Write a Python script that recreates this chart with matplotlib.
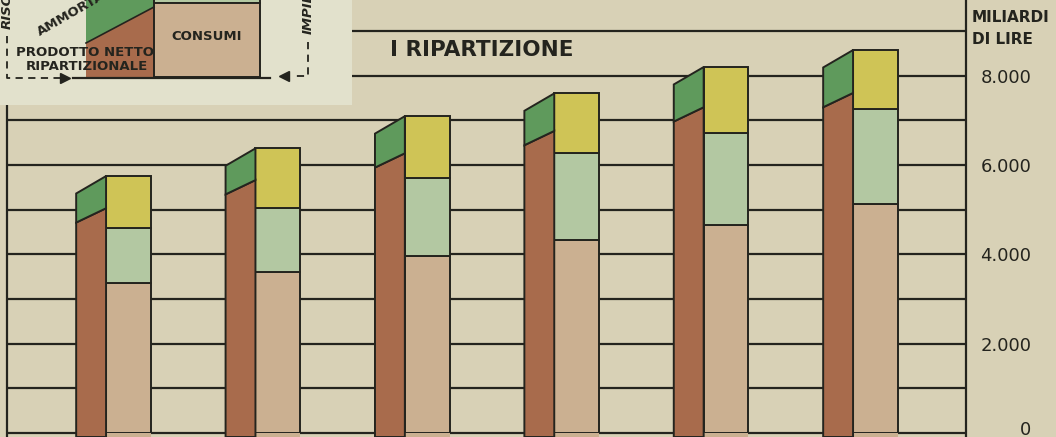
import matplotlib
matplotlib.use('Agg')
import matplotlib.pyplot as plt
from matplotlib.patches import Polygon, Rectangle
from matplotlib.transforms import ScaledTranslation

# miliardi di lire, sei anni
consumi = [3360, 3600, 3960, 4320, 4650, 5120]
investimenti = [1230, 1430, 1740, 1940, 2060, 2130]
altri_impieghi = [1160, 1340, 1390, 1340, 1480, 1320]
prodotto_netto = [5030, 5660, 6260, 6760, 7290, 7610]
ammortamenti = [720, 710, 830, 840, 900, 960]
tick_values = [0, 2000, 4000, 6000, 8000]

bg = '#d8d1b6'
bg_legend = '#e2e1cc'
ink = '#24241e'
c_brown = '#a86b4c'
c_green = '#5f9a5c'
c_yellow = '#cfc456'
c_light = '#b3c8a2'
c_tan = '#cbb091'

plt.rcParams['font.family'] = 'DejaVu Sans'

fig = plt.figure(figsize=(10.56, 4.37), dpi=100, facecolor=bg)
ax = fig.add_axes([7 / 1056, 0, 959 / 1056, 1])
ax.set_facecolor(bg)
ax.set_xlim(-0.663, 5.756)
ax.set_ylim(-89, 9690)

# grid lines every 1000
for v in range(0, 10000, 1000):
    ax.axhline(v, color=ink, lw=1.6, zorder=1)

x = list(range(len(consumi)))
w = 0.30      # front face width
d = 0.20      # side face depth
skew_lo = 320
skew_hi = 390

tot1 = [c + i for c, i in zip(consumi, investimenti)]
ax.bar(x, consumi, width=w, bottom=0, align='edge', color=c_tan, edgecolor=ink, lw=1.4, zorder=3)
ax.bar(x, investimenti, width=w, bottom=consumi, align='edge', color=c_light, edgecolor=ink, lw=1.4, zorder=3)
ax.bar(x, altri_impieghi, width=w, bottom=tot1, align='edge', color=c_yellow, edgecolor=ink, lw=1.4, zorder=3)
# the front columns run down past the base line
ax.bar(x, [89] * len(x), width=w, bottom=-89, align='edge', color=c_tan, edgecolor='none', zorder=3)

# side face: prodotto netto + ammortamenti
for xi, pn, am in zip(x, prodotto_netto, ammortamenti):
    top = pn + am
    ax.add_patch(Polygon([(xi - d, -89), (xi, -89), (xi, pn), (xi - d, pn - skew_lo)],
                         closed=True, fc=c_brown, ec=ink, lw=1.4, zorder=3))
    ax.add_patch(Polygon([(xi - d, pn - skew_lo), (xi, pn), (xi, top), (xi - d, top - skew_hi)],
                         closed=True, fc=c_green, ec=ink, lw=1.4, zorder=3))

for s in ['top', 'bottom']:
    ax.spines[s].set_visible(False)
for s in ['left', 'right']:
    ax.spines[s].set_color(ink)
    ax.spines[s].set_linewidth(1.6)
ax.set_xticks([])
ax.yaxis.tick_right()
ax.set_yticks(tick_values)
ax.set_yticklabels([f'{v:,}'.replace(',', '.') for v in tick_values])
ax.tick_params(axis='y', length=0, pad=47, labelsize=13, labelcolor=ink)
for lab in ax.get_yticklabels():
    lab.set_horizontalalignment('right')
# lift the zero label a little so it stays inside the figure
zero = ax.get_yticklabels()[0]
zero.set_transform(zero.get_transform() + ScaledTranslation(0, 5 / 100, fig.dpi_scale_trans))

fig.text(972 / 1056, 1 - 18 / 437, 'MILIARDI', fontsize=11, fontweight='bold', color=ink, va='center')
fig.text(972 / 1056, 1 - 40 / 437, 'DI LIRE', fontsize=11, fontweight='bold', color=ink, va='center')
fig.text(390 / 1056, 1 - 50 / 437, 'I RIPARTIZIONE', fontsize=15.5, fontweight='bold', color=ink, va='center')

# legenda schematica in alto a sinistra
lg = fig.add_axes([0, 1 - 105 / 437, 352 / 1056, 105 / 437])
lg.set_xlim(0, 352)
lg.set_ylim(105, 0)
lg.set_facecolor(bg_legend)
lg.axis('off')
lg.add_patch(Rectangle((0, 0), 352, 105, fc=bg_legend, ec='none', zorder=0))
lg.add_patch(Polygon([(86, -2), (154, -2), (154, 7), (86, 43)], closed=True, fc=c_green, ec='none', zorder=2))
lg.add_patch(Polygon([(86, 43), (154, 7), (154, 77), (86, 77)], closed=True, fc=c_brown, ec='none', zorder=2))
lg.plot([86, 154], [43, 7], color=ink, lw=1.2, zorder=3)
lg.add_patch(Rectangle((154, -2), 106, 5, fc=c_light, ec=ink, lw=1.4, zorder=2))
lg.add_patch(Rectangle((154, 3), 106, 74, fc=c_tan, ec=ink, lw=1.4, zorder=2))
lg.plot([73, 270], [78, 78], color=ink, lw=1.6, zorder=3)

lg.text(207, 37, 'CONSUMI', fontsize=9.5, fontweight='bold', color=ink, ha='center', va='center', zorder=4)
lg.text(85, 52, 'PRODOTTO NETTO', fontsize=9.5, fontweight='bold', color=ink, ha='center', va='center', zorder=4)
lg.text(87, 66, 'RIPARTIZIONALE', fontsize=9.5, fontweight='bold', color=ink, ha='center', va='center', zorder=4)
lg.text(40, 36, 'AMMORTAMENTI', fontsize=9.5, fontweight='bold', color=ink, rotation=30,
        rotation_mode='anchor', ha='left', va='baseline', zorder=4, clip_on=True)
lg.text(7, 29, 'RISORSE', fontsize=9.5, fontweight='bold', style='italic', color=ink, rotation=90,
        ha='center', va='bottom', zorder=4, clip_on=True)
lg.text(308, 34, 'IMPIEGHI', fontsize=9.5, fontweight='bold', style='italic', color=ink, rotation=90,
        ha='center', va='bottom', zorder=4, clip_on=True)

# frecce tratteggiate
lg.plot([7, 7, 60], [36, 78, 78], color=ink, lw=1.3, ls=(0, (4, 3)), zorder=3)
lg.plot([65], [78], marker='>', color=ink, ms=7, zorder=3)
lg.plot([308, 308, 292], [42, 76, 76], color=ink, lw=1.3, ls=(0, (4, 3)), zorder=3)
lg.plot([284], [76], marker='<', color=ink, ms=7, zorder=3)

fig.savefig('out.png', dpi=100, facecolor=bg)
